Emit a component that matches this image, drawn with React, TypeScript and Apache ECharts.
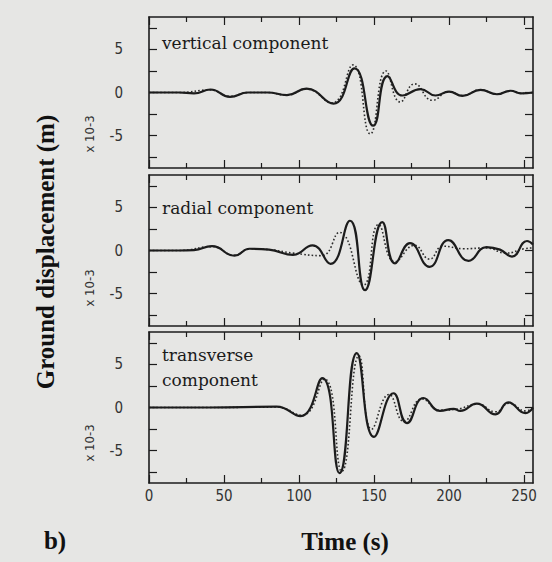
import React, { useEffect, useRef } from "react";
import * as echarts from "echarts";

// ---- axis data ----
const timeMajorTicks = [0, 50, 100, 150, 200, 250];
const timeMinorTicks = [25, 75, 125, 175, 225];
const ampLabels = [-5, 0, 5];
const ampTicks = [-7.5, -5, -2.5, 0, 2.5, 5, 7.5];
const panelTitles = ["vertical component", "radial component", "transverse\ncomponent"];

// ---- vertical component ----
const vertSolidT = [0, 20, 30, 41, 54, 66, 79, 92, 105, 123, 137, 149.5, 159, 169, 181, 191, 200, 209, 221, 232, 241, 248, 256];
const vertSolidV = [0, 0, -0.1, 0.35, -0.5, 0, 0, -0.3, 0.45, -1.3, 2.8, -3.85, 1.9, -0.35, 0.4, -0.35, 0.1, -0.4, 0.3, -0.2, 0.2, -0.1, 0];
const vertDotT = [0, 20, 41, 54, 66, 79, 92, 105, 122, 136, 147.5, 158, 167.5, 177, 189, 200, 209, 221, 232, 241, 248, 256];
const vertDotV = [0, 0, 0.3, -0.45, 0, 0, -0.3, 0.4, -1.2, 3.2, -4.8, 2.5, -1.1, 1.0, -0.9, 0.1, -0.35, 0.3, -0.2, 0.2, -0.1, 0];

// ---- radial component ----
const radSolidT = [0, 20, 30, 42, 57, 67, 80, 96, 109, 121, 134, 144, 155.5, 164, 174, 187, 199.5, 213, 225, 234, 242, 252, 256];
const radSolidV = [0, 0, 0.05, 0.5, -0.6, 0.2, 0.1, -0.5, 0.6, -1.55, 3.45, -4.6, 3.3, -1.5, 0.85, -1.9, 1.2, -1.2, 0.4, 0.1, -0.7, 1.1, 0.7];
const radDotT = [0, 20, 42, 57, 67, 80, 96, 115, 127, 143, 153, 164, 177, 187, 196, 210, 225, 238, 250, 256];
const radDotV = [0, 0, 0.45, -0.55, 0.2, 0.1, -0.3, -0.6, 2.1, -4.0, 3.0, -1.3, 0.6, -1.0, 0.5, 0.2, 0.3, -0.3, 0.2, 0.3];

// ---- transverse component ----
const tranSolidT = [0, 40, 85, 101, 115.5, 127, 138.5, 150, 163, 172, 183, 194, 203, 207.5, 218.5, 231, 239.5, 251, 256];
const tranSolidV = [0, 0, 0.1, -1.0, 3.4, -7.6, 6.3, -3.4, 1.65, -1.8, 1.1, -0.4, -0.15, -0.4, 0.45, -0.8, 0.6, -0.65, 0];
const tranDotT = [0, 40, 85, 102, 117, 128.5, 140, 148.5, 160, 170, 182, 194, 205, 219, 231, 240, 251, 256];
const tranDotV = [0, 0, 0.05, -0.9, 3.3, -7.4, 6.0, -2.5, 1.5, -1.6, 1.0, -0.3, -0.2, 0.4, -0.5, 0.5, -0.4, -0.1];

const panels = [
  { solidT: vertSolidT, solidV: vertSolidV, dotT: vertDotT, dotV: vertDotV },
  { solidT: radSolidT, solidV: radSolidV, dotT: radDotT, dotV: radDotV },
  { solidT: tranSolidT, solidV: tranSolidV, dotT: tranDotT, dotV: tranDotV },
];

const pair = (t: number[], v: number[]) => t.map((x, i) => [x, v[i]]);

export default function App() {
  const ref = useRef<HTMLDivElement>(null);
  useEffect(() => {
    if (!ref.current) return;
    const chart = echarts.init(ref.current, null, { renderer: "svg" });
    const ink = "#1c1c1c";
    const tickFont = "'Liberation Sans Narrow', 'DejaVu Sans Condensed', 'Liberation Sans', sans-serif";
    const grids = [
      { left: 149, top: 17, width: 384, height: 151 },
      { left: 149, top: 175, width: 384, height: 151 },
      { left: 149, top: 332, width: 384, height: 151 },
    ];
    const line = (show: boolean) => ({ show, onZero: false, lineStyle: { color: ink, width: 1.6 } });
    const xAxes: any[] = [];
    const yAxes: any[] = [];
    const series: any[] = [];
    grids.forEach((_, g) => {
      const isLast = g === 2;
      const mk = (position: string, showLine: boolean, ticks: number[], len: number, labels: boolean) => ({
        type: "value", gridIndex: g, position, min: 0, max: 256,
        axisLine: line(showLine),
        axisTick: { show: true, inside: true, length: len, customValues: ticks, lineStyle: { color: ink, width: 1.2 } },
        axisLabel: labels
          ? { show: true, customValues: timeMajorTicks, margin: 5, color: "#333", fontSize: 15, fontFamily: tickFont }
          : { show: false },
        splitLine: { show: false },
      });
      xAxes.push(mk("bottom", true, timeMajorTicks, 8, isLast));
      xAxes.push(mk("top", true, timeMajorTicks, 8, false));
      xAxes.push(mk("bottom", false, timeMinorTicks, 5, false));
      xAxes.push(mk("top", false, timeMinorTicks, 5, false));
      yAxes.push({
        type: "value", gridIndex: g, position: "left", min: -8.75, max: 8.75,
        axisLine: line(true),
        axisTick: { show: true, inside: true, length: 8, customValues: ampTicks, lineStyle: { color: ink, width: 1.2 } },
        axisLabel: { show: true, customValues: ampLabels, margin: 26, color: "#333", fontSize: 15, fontFamily: tickFont },
        splitLine: { show: false },
      });
      yAxes.push({
        type: "value", gridIndex: g, position: "right", min: -8.75, max: 8.75,
        axisLine: line(true),
        axisTick: { show: true, inside: true, length: 8, customValues: ampTicks, lineStyle: { color: ink, width: 1.2 } },
        axisLabel: { show: false },
        splitLine: { show: false },
      });
      const p = panels[g];
      series.push({
        type: "line", xAxisIndex: g * 4, yAxisIndex: g * 2, data: pair(p.dotT, p.dotV),
        smooth: 0.5, showSymbol: false, symbol: "none",
        lineStyle: { color: "#2a2a2a", width: 1.6, type: [1.6, 2.2] },
      });
      series.push({
        type: "line", xAxisIndex: g * 4, yAxisIndex: g * 2, data: pair(p.solidT, p.solidV),
        smooth: 0.5, showSymbol: false, symbol: "none",
        lineStyle: { color: ink, width: 2.2 },
      });
    });

    const serif = "'DejaVu Serif', 'Liberation Serif', serif";
    const boldSerif = "'Liberation Serif', 'Times New Roman', serif";
    const titleTops = [30, 195, 342];
    const graphics: any[] = panelTitles.map((t, i) => ({
      type: "text", left: 162, top: titleTops[i],
      style: { text: t, font: `17px ${serif}`, fill: "#1a1a1a", lineHeight: 25 },
    }));
    [134, 288, 443].forEach((cy) => {
      graphics.push({
        type: "text", x: 89, y: cy, rotation: Math.PI / 2,
        style: { text: "x 10-3", font: `13px ${tickFont}`, fill: "#333", align: "center", verticalAlign: "middle" },
      });
    });
    graphics.push({
      type: "text", x: 45, y: 252, rotation: Math.PI / 2,
      style: { text: "Ground displacement (m)", font: `bold 25px ${boldSerif}`, fill: "#111", align: "center", verticalAlign: "middle" },
    });
    graphics.push({
      type: "text", x: 345, y: 541,
      style: { text: "Time (s)", font: `bold 25px ${boldSerif}`, fill: "#111", align: "center", verticalAlign: "middle" },
    });
    graphics.push({
      type: "text", x: 55, y: 540,
      style: { text: "b)", font: `bold 25px ${boldSerif}`, fill: "#111", align: "center", verticalAlign: "middle" },
    });

    chart.setOption({
      animation: false,
      backgroundColor: "#e6e6e4",
      grid: grids,
      xAxis: xAxes,
      yAxis: yAxes,
      series,
      graphic: graphics,
    });
    return () => chart.dispose();
  }, []);
  return (
    <div
      ref={ref}
      style={{ position: "fixed", left: 0, top: 0, width: 552, height: 562 }}
    />
  );
}
